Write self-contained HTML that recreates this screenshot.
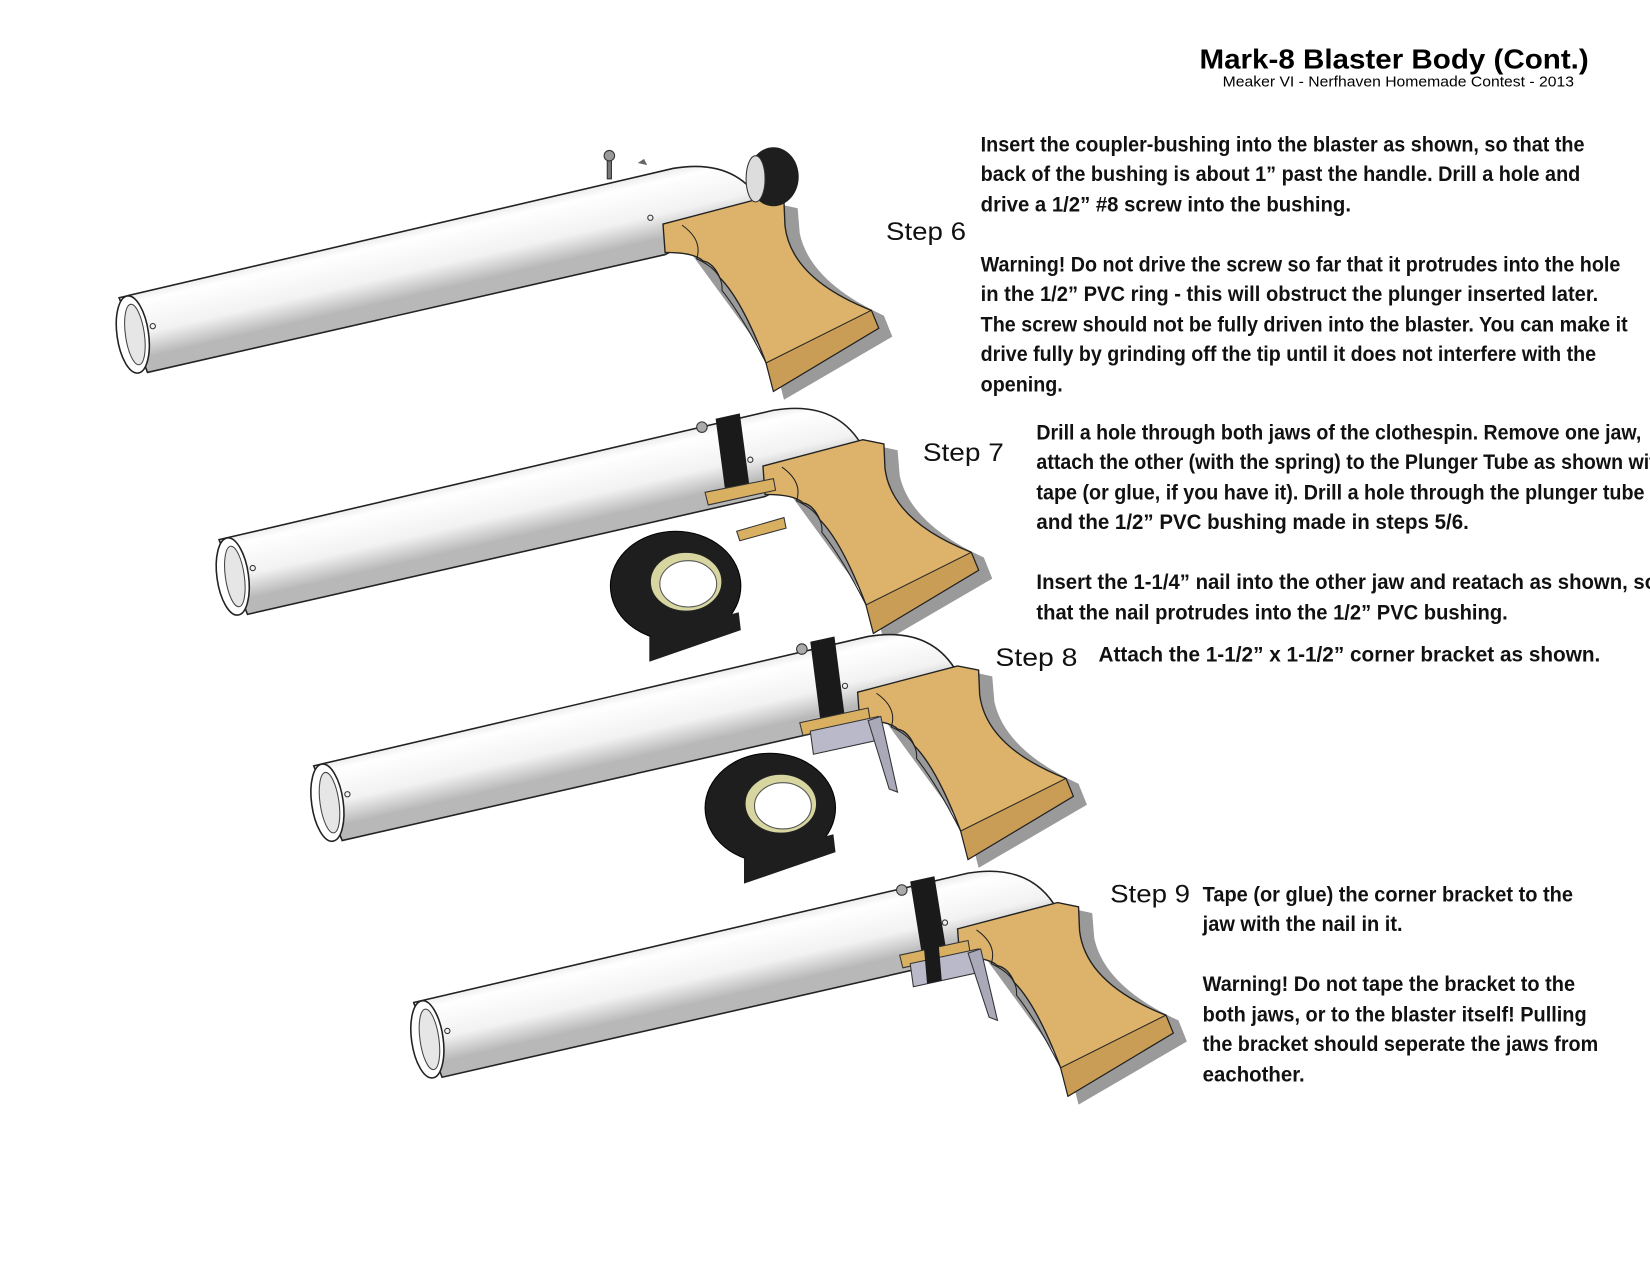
<!DOCTYPE html>
<html><head><meta charset="utf-8"><style>
html,body{margin:0;padding:0;background:#fff;width:1650px;height:1275px;overflow:hidden}
svg{display:block}
.t{font-family:"Liberation Sans Narrow","Liberation Sans",sans-serif;font-weight:bold;font-size:20px;fill:#111}
.s{font-family:"Liberation Sans",sans-serif;font-size:24px;fill:#111}
</style></head><body>
<svg width="1650" height="1275" viewBox="0 0 1568 1212" xmlns="http://www.w3.org/2000/svg">
<defs>
<linearGradient id="pg" gradientUnits="userSpaceOnUse" x1="0" y1="-38" x2="0" y2="38" gradientTransform="translate(380,245) rotate(-13)">
<stop offset="0" stop-color="#cfcfcf"/><stop offset="0.3" stop-color="#ffffff"/><stop offset="0.7" stop-color="#f2f2f2"/><stop offset="1" stop-color="#b8b8b8"/>
</linearGradient>
<g id="pistol">
<path d="M640,218 L735,193 L758,198 L760,222 Q770,268 840,300 L848,320 L745,380 L738,352 Z" fill="#9a9a9a"/>
<path d="M113,283 L640,160 Q700,150 725,195 L632,242 L140,354 Z" fill="url(#pg)" stroke="#222" stroke-width="1.5"/>
<ellipse cx="126" cy="318" rx="15" ry="37" fill="#fff" stroke="#222" stroke-width="1.5" transform="rotate(-8 126 318)"/>
<ellipse cx="128" cy="318" rx="9" ry="29" fill="#e6e6e6" stroke="#444" stroke-width="1" transform="rotate(-8 128 318)"/>
<circle cx="145" cy="310" r="2.5" fill="none" stroke="#333"/>
<circle cx="618" cy="207" r="2.5" fill="none" stroke="#333"/>
<path d="M630,213 L725,188 L745,192 L746,215 Q752,265 828,295 L835,312 L735,372 L728,345 Q705,285 684,264 Q678,250 668,248 Q660,240 632,240 Z" fill="#ddb36c" stroke="#222" stroke-width="1.3"/>
<path d="M648,214 Q668,228 662,246 Q688,258 686,276 Q705,300 728,345" fill="none" stroke="#222" stroke-width="1"/>
<path d="M728,345 L735,372 L835,312 L828,295 Z" fill="#c99d55" stroke="#222" stroke-width="1"/>
</g>
<g id="roll">
<ellipse cx="0" cy="0" rx="62" ry="52" fill="#1e1e1e" stroke="#000"/>
<ellipse cx="10" cy="-4" rx="34" ry="28" fill="#d8d6a0" stroke="#222"/>
<ellipse cx="12" cy="-2" rx="27" ry="22" fill="#fff" stroke="#555"/>
<path d="M-25,48 L60,25 L62,42 L-25,72 Z" fill="#1e1e1e"/>
</g>
</defs>

<use href="#pistol"/>
<ellipse cx="735" cy="168" rx="24" ry="28" fill="#1e1e1e"/>
<ellipse cx="718" cy="170" rx="9" ry="22" fill="#ddd" stroke="#333"/>
<path d="M577,145 l4,0 l0,25 l-4,0 Z" fill="#777" stroke="#333"/>
<circle cx="579" cy="148" r="5" fill="#999" stroke="#333"/>
<path d="M606,155 l6,-4 l3,6 Z" fill="#666"/>

<g transform="translate(95,230)"><use href="#pistol"/>
<path d="M585,168 L608,163 L618,238 L595,243 Z" fill="#1a1a1a"/>
<path d="M575,238 L640,225 L642,236 L578,250 Z" fill="#d9b062" stroke="#333"/>
<path d="M605,275 L650,262 L652,272 L608,284 Z" fill="#d9b062" stroke="#333"/>
<circle cx="572" cy="176" r="5" fill="#aaa" stroke="#333"/>
</g>
<use href="#roll" transform="translate(642,557)"/>

<g transform="translate(185,445)"><use href="#pistol"/>
<path d="M585,165 L608,160 L618,238 L595,243 Z" fill="#1a1a1a"/>
<path d="M575,242 L640,228 L642,240 L578,254 Z" fill="#d9b062" stroke="#333"/>
<path d="M585,250 L650,236 L652,258 L588,272 Z" fill="#b9b9c9" stroke="#333"/>
<path d="M640,240 L652,236 L668,308 L660,305 Z" fill="#a9a9b9" stroke="#333"/>
<circle cx="577" cy="172" r="5" fill="#aaa" stroke="#333"/>
</g>
<use href="#roll" transform="translate(732,768)"/>

<g transform="translate(280,670)"><use href="#pistol"/>
<path d="M585,168 L608,163 L620,238 L597,243 Z" fill="#1a1a1a"/>
<path d="M575,238 L640,224 L642,236 L578,250 Z" fill="#d9b062" stroke="#333"/>
<path d="M585,246 L650,232 L652,254 L588,268 Z" fill="#b9b9c9" stroke="#333"/>
<path d="M640,236 L652,232 L668,300 L660,297 Z" fill="#a9a9b9" stroke="#333"/>
<path d="M598,230 L612,227 L615,262 L601,265 Z" fill="#1a1a1a"/>
<circle cx="577" cy="176" r="5" fill="#aaa" stroke="#333"/>
</g>

<text x="1140" y="65" font-family="Liberation Sans,sans-serif" font-weight="bold" font-size="26" textLength="370" lengthAdjust="spacingAndGlyphs">Mark-8 Blaster Body (Cont.)</text>
<text x="1162" y="82" font-family="Liberation Sans,sans-serif" font-size="14" textLength="334" lengthAdjust="spacingAndGlyphs">Meaker VI - Nerfhaven Homemade Contest - 2013</text>

<text class="s" x="842" y="228" textLength="76" lengthAdjust="spacingAndGlyphs">Step 6</text>
<text class="s" x="877" y="438" textLength="77" lengthAdjust="spacingAndGlyphs">Step 7</text>
<text class="s" x="946" y="633" textLength="78" lengthAdjust="spacingAndGlyphs">Step 8</text>
<text class="s" x="1055" y="858" textLength="76" lengthAdjust="spacingAndGlyphs">Step 9</text>

<g class="t">
<text x="932" y="144" textLength="574" lengthAdjust="spacingAndGlyphs">Insert the coupler-bushing into the blaster as shown, so that the</text>
<text x="932" y="172" textLength="570" lengthAdjust="spacingAndGlyphs">back of the bushing is about 1” past the handle. Drill a hole and</text>
<text x="932" y="201" textLength="352" lengthAdjust="spacingAndGlyphs">drive a 1/2” #8 screw into the bushing.</text>
<text x="932" y="258" textLength="608" lengthAdjust="spacingAndGlyphs">Warning! Do not drive the screw so far that it protrudes into the hole</text>
<text x="932" y="286" textLength="587" lengthAdjust="spacingAndGlyphs">in the 1/2” PVC ring - this will obstruct the plunger inserted later.</text>
<text x="932" y="315" textLength="615" lengthAdjust="spacingAndGlyphs">The screw should not be fully driven into the blaster. You can  make it</text>
<text x="932" y="343" textLength="585" lengthAdjust="spacingAndGlyphs">drive fully by grinding off the tip until it does not interfere with the</text>
<text x="932" y="372" textLength="78" lengthAdjust="spacingAndGlyphs">opening.</text>

<text x="985" y="418" textLength="575" lengthAdjust="spacingAndGlyphs">Drill a hole through both jaws of the clothespin. Remove one jaw,</text>
<text x="985" y="446" textLength="600" lengthAdjust="spacingAndGlyphs">attach the other (with the spring) to the Plunger Tube as shown with</text>
<text x="985" y="475" textLength="578" lengthAdjust="spacingAndGlyphs">tape (or glue, if you have it). Drill a hole through the plunger tube</text>
<text x="985" y="503" textLength="411" lengthAdjust="spacingAndGlyphs">and the 1/2” PVC bushing made in steps 5/6.</text>
<text x="985" y="560" textLength="590" lengthAdjust="spacingAndGlyphs">Insert the 1-1/4” nail into the other jaw and reatach as shown, so</text>
<text x="985" y="589" textLength="448" lengthAdjust="spacingAndGlyphs">that the nail protrudes into the 1/2” PVC bushing.</text>

<text x="1044" y="629" textLength="477" lengthAdjust="spacingAndGlyphs">Attach the 1-1/2” x 1-1/2” corner bracket as shown.</text>

<text x="1143" y="857" textLength="352" lengthAdjust="spacingAndGlyphs">Tape (or glue) the corner bracket to the</text>
<text x="1143" y="885" textLength="190" lengthAdjust="spacingAndGlyphs">jaw with the nail in it.</text>
<text x="1143" y="942" textLength="354" lengthAdjust="spacingAndGlyphs">Warning! Do not tape the bracket to the</text>
<text x="1143" y="971" textLength="365" lengthAdjust="spacingAndGlyphs">both jaws, or to the blaster itself! Pulling</text>
<text x="1143" y="999" textLength="376" lengthAdjust="spacingAndGlyphs">the bracket should seperate the jaws from</text>
<text x="1143" y="1028" textLength="97" lengthAdjust="spacingAndGlyphs">eachother.</text>
</g>
</svg>
</body></html>
